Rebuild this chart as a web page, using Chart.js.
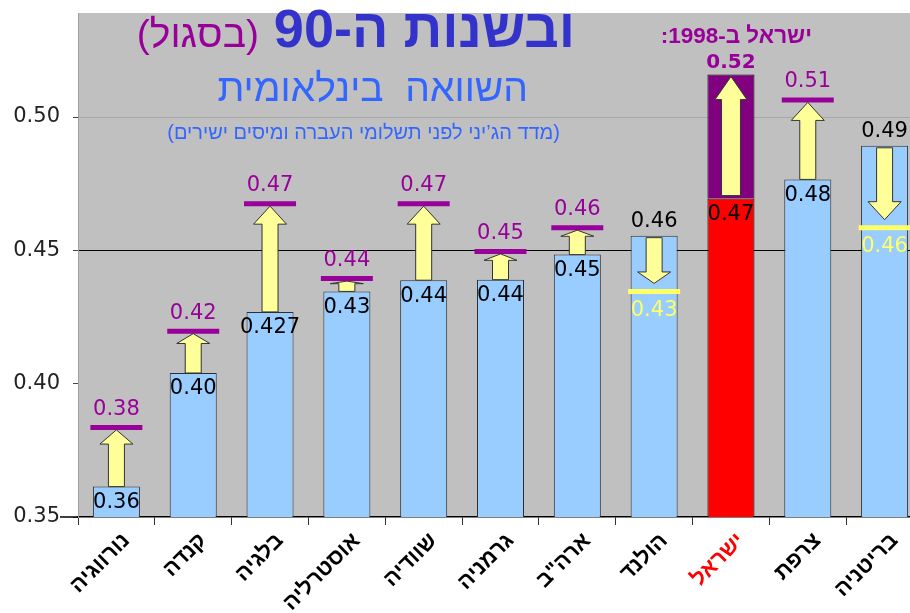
<!DOCTYPE html>
<html>
<head>
<meta charset="utf-8">
<script src="https://cdn.jsdelivr.net/npm/chart.js@4/dist/chart.umd.min.js"></script>
<style>
  html, body { margin: 0; padding: 0; background: #fff; overflow: hidden; }
  #wrap { width: 923px; height: 613px; }
</style>
</head>
<body>
<div id="wrap"><canvas id="gini" width="923" height="613"></canvas></div>
<script>
// countries, left to right
var categories = ['נורווגיה', 'קנדה', 'בלגיה', 'אוסטרליה', 'שוודיה', 'גרמניה', 'ארה"ב', 'הולנד', 'ישראל', 'צרפת', 'בריטניה'];
// bar heights (blue / red bars)
var barValues = [0.3614, 0.404, 0.4269, 0.4346, 0.4388, 0.439, 0.4484, 0.4555, 0.4694, 0.4766, 0.4892];
// values the arrows point to (purple lines, yellow when lower)
var markValues = [0.3836, 0.4197, 0.4675, 0.4394, 0.4675, 0.4496, 0.4585, 0.4346, 0.5159, 0.5064, 0.4585];
var barLabels = ['0.36', '0.40', '0.427', '0.43', '0.44', '0.44', '0.45', '0.46', '0.47', '0.48', '0.49'];
var markLabels = ['0.38', '0.42', '0.47', '0.44', '0.47', '0.45', '0.46', '0.43', '0.52', '0.51', '0.46'];
var yTicks = [0.35, 0.40, 0.45, 0.50];

var hi = categories.indexOf('ישראל');
var numFont = "'DejaVu Sans', Verdana, sans-serif";
var hebFont = "'Liberation Sans', Arial, 'DejaVu Sans', sans-serif";
var purple = '#990099';
var yellow = '#ffff66';

function drawArrow(ctx, cx, y0, y1, shaft, head, headMax) {
	var dir = y1 > y0 ? 1 : -1;
	var len = Math.abs(y1 - y0);
	var hh = Math.min(headMax, len * 0.25);
	var yb = y1 - dir * hh;
	ctx.beginPath();
	ctx.moveTo(cx - shaft / 2, y0);
	ctx.lineTo(cx - shaft / 2, yb);
	ctx.lineTo(cx - head / 2, yb);
	ctx.lineTo(cx, y1);
	ctx.lineTo(cx + head / 2, yb);
	ctx.lineTo(cx + shaft / 2, yb);
	ctx.lineTo(cx + shaft / 2, y0);
	ctx.closePath();
	ctx.fillStyle = '#ffff99';
	ctx.fill();
	ctx.lineWidth = 1;
	ctx.strokeStyle = '#333';
	ctx.stroke();
}

var annotate = {
	id: 'annotate',
	beforeDraw: function(chart) {
		var a = chart.chartArea;
		var ctx = chart.ctx;
		ctx.save();
		ctx.fillStyle = '#c0c0c0';
		ctx.fillRect(a.left, a.top, a.right - a.left, a.bottom - a.top);
		ctx.restore();
	},
	afterDatasetsDraw: function(chart) {
		var ctx = chart.ctx;
		var xs = chart.scales.x;
		var ys = chart.scales.y;
		ctx.save();
		// axis line runs on left past the ticks at the bottom value
		var y0 = ys.getPixelForValue(yTicks[0]);
		ctx.strokeStyle = '#000';
		ctx.lineWidth = 1.5;
		ctx.beginPath();
		ctx.moveTo(60, y0);
		ctx.lineTo(chart.chartArea.left, y0);
		ctx.stroke();
		ctx.textAlign = 'center';
		ctx.textBaseline = 'middle';
		for (var i = 0; i < categories.length; i++) {
			var cx = xs.getPixelForValue(i);
			var yb = ys.getPixelForValue(barValues[i]);
			var ym = ys.getPixelForValue(markValues[i]);
			var up = markValues[i] > barValues[i];
			if (i === hi) {
				drawArrow(ctx, cx, yb - 3, ym + 2, 19, 32, 23);
			} else if (up) {
				drawArrow(ctx, cx, yb, ym + 2.5, 16, 33, 18);
			} else {
				drawArrow(ctx, cx, yb + 2, ym - 8, 16, 33, 18);
			}
			// bar value
			ctx.font = '21px ' + numFont;
			ctx.fillStyle = '#000';
			ctx.fillText(barLabels[i], cx, up ? yb + 16 : yb - 14);
			// marker value
			if (i === hi) {
				ctx.font = 'bold 20px ' + numFont;
				ctx.fillStyle = purple;
				ctx.fillText(markLabels[i], cx, ym - 12);
			} else {
				ctx.font = '21px ' + numFont;
				ctx.fillStyle = up ? purple : yellow;
				ctx.fillText(markLabels[i], cx, up ? ym - 18 : ym + 19);
			}
		}
		ctx.restore();
	},
	afterDraw: function(chart) {
		var ctx = chart.ctx;
		ctx.save();
		ctx.direction = 'rtl';
		ctx.textAlign = 'right';
		ctx.textBaseline = 'alphabetic';
		ctx.font = 'bold 54px ' + hebFont;
		ctx.fillStyle = '#3333cc';
		ctx.fillText('ובשנות ה-90', 575, 47);
		ctx.font = '39px ' + hebFont;
		ctx.fillStyle = purple;
		ctx.fillText('(בסגול)', 259, 47);
		ctx.font = '39px ' + hebFont;
		ctx.fillStyle = '#3366ff';
		ctx.fillText('השוואה  בינלאומית', 528, 101);
		ctx.font = '20px ' + hebFont;
		ctx.fillText('(מדד הג’יני לפני תשלומי העברה ומיסים ישירים)', 560, 139);
		ctx.font = 'bold 22.5px ' + hebFont;
		ctx.fillStyle = purple;
		ctx.fillText('ישראל ב-1998:', 812, 43);
		ctx.restore();
	}
};

new Chart(document.getElementById('gini'), {
	type: 'bar',
	data: {
		labels: categories,
		datasets: [
		{
			data: barValues,
			backgroundColor: categories.map(function(c, i) { return i === hi ? '#ff0000' : '#99ccff'; }),
			borderColor: categories.map(function(c, i) { return i === hi ? '#000' : '#2e2e2e'; }),
			borderWidth: 1,
			grouped: false,
			order: 2
		},
		{
			data: categories.map(function(c, i) { return i === hi ? [barValues[i], markValues[i]] : null; }),
			backgroundColor: '#800080',
			borderColor: '#000',
			borderWidth: 1,
			grouped: false,
			order: 1
		},
		{
			type: 'line',
			data: markValues,
			showLine: false,
			pointStyle: 'line',
			pointRadius: categories.map(function(c, i) { return i === hi ? 0 : 26; }),
			pointBorderWidth: 5,
			pointBorderColor: categories.map(function(c, i) { return markValues[i] > barValues[i] ? purple : yellow; }),
			order: 0
		}]
	},
	options: {
		responsive: false,
		animation: false,
		devicePixelRatio: 1,
		events: [],
		layout: { autoPadding: false, padding: { top: 13, left: 0, right: 0, bottom: 0 } },
		datasets: { bar: { categoryPercentage: 1, barPercentage: 0.612 } },
		plugins: { legend: { display: false }, tooltip: { enabled: false } },
		scales: {
			x: {
				grid: { offset: true, drawOnChartArea: false, tickLength: 8, color: '#333', tickColor: '#333' },
				border: { color: '#000', width: 1.5 },
				ticks: {
					autoSkip: false,
					maxRotation: 45,
					minRotation: 45,
					padding: 3,
					labelOffset: 10,
					font: { family: hebFont, size: 22, weight: 'bold' },
					color: function(ctx) { return ctx.index === hi ? '#ff0000' : '#000'; }
				},
				afterFit: function(scale) {
					scale.height = 96;
					scale.paddingLeft = 0;
					scale.paddingRight = 0;
				}
			},
			y: {
				min: 0.35,
				max: 0.539,
				afterBuildTicks: function(scale) {
					scale.ticks = yTicks.map(function(v) { return { value: v }; });
				},
				afterFit: function(scale) {
					scale.width = 78;
					scale.paddingTop = 0;
					scale.paddingBottom = 0;
				},
				grid: {
					tickLength: 5,
					tickColor: '#444',
					color: function(ctx) {
						var v = ctx.tick ? ctx.tick.value : 0;
						if (Math.abs(v - 0.45) < 1e-6) return '#000';
						if (Math.abs(v - 0.50) < 1e-6) return '#a8a8a8';
						return 'rgba(0,0,0,0)';
					}
				},
				border: { color: '#a0a0a0', width: 1 },
				ticks: {
					padding: 13,
					color: '#222',
					font: { family: numFont, size: 21 },
					callback: function(v) { return v.toFixed(2); }
				}
			}
		}
	},
	plugins: [annotate]
});
</script>
</body>
</html>
